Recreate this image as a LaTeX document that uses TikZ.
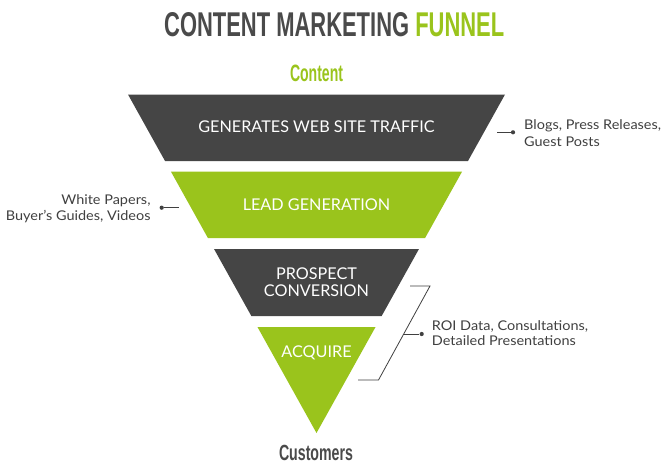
\documentclass[tikz,border=0pt]{standalone}
\usepackage{fontspec}
\setmainfont{Lato}
\newfontfamily\condfont{Liberation Sans}
\newfontfamily\sidefont{Lato}[FakeStretch=1.08]
\usepackage{graphicx}
\definecolor{fdark}{RGB}{69,69,69}
\definecolor{fgreen}{RGB}{154,196,28}
\definecolor{tgray}{RGB}{74,74,74}
\definecolor{sidegray}{RGB}{64,64,64}
\begin{document}
\begin{tikzpicture}[x=1pt,y=-1pt,
  seglabel/.style={text=white,font=\fontsize{16.2}{17.5}\selectfont,align=center,inner sep=0pt},
  sidelabel/.style={text=sidegray,inner sep=0pt},
  leader/.style={draw=sidegray,line width=0.8pt},
  dotmark/.style={circle,fill=sidegray,inner sep=0pt,minimum size=4.2pt}]
\useasboundingbox (0,0) rectangle (666,469);
\fill[white] (0,0) rectangle (666,469);
\def\cx{316.5}
\def\hw#1{(0.556869*(433-#1))}
% funnel segments
\fill[fdark] ({\cx-\hw{94.5}},94.5) -- ({\cx+\hw{94.5}},94.5) -- ({\cx+\hw{161}},161) -- ({\cx-\hw{161}},161) -- cycle;
\fill[fgreen] ({\cx-\hw{171.5}},171.5) -- ({\cx+\hw{171.5}},171.5) -- ({\cx+\hw{238}},238) -- ({\cx-\hw{238}},238) -- cycle;
\fill[fdark] ({\cx-\hw{249}},249) -- ({\cx+\hw{249}},249) -- ({\cx+\hw{316}},316) -- ({\cx-\hw{316}},316) -- cycle;
\fill[fgreen] ({\cx-\hw{327}},327) -- ({\cx+\hw{327}},327) -- (\cx,433) -- cycle;
% titles
\node[anchor=base west,inner sep=0pt] (title) at (164,36.7)
  {\resizebox{340pt}{24pt}{\condfont\bfseries\textcolor{tgray}{CONTENT MARKETING} \textcolor{fgreen}{FUNNEL}}};
\node[anchor=base,inner sep=0pt] (content) at (316.5,81.7)
  {\resizebox{53pt}{16.5pt}{\condfont\bfseries\textcolor{fgreen}{Content}}};
\node[anchor=base,inner sep=0pt] (customers) at (316,460.7)
  {\resizebox{74pt}{15.3pt}{\condfont\bfseries\textcolor{tgray}{Customers}}};
% segment labels
\node[seglabel] (s1) at (\cx,127) {GENERATES WEB SITE TRAFFIC};
\node[seglabel] (s2) at (\cx,205) {LEAD GENERATION};
\node[seglabel] (s3) at (\cx,282) {PROSPECT\\CONVERSION};
\node[seglabel] (s4) at (\cx,353) {ACQUIRE};
% side labels
\node[sidelabel,anchor=west,align=left,font=\sidefont\fontsize{13.4}{17.6}\selectfont] (blogs) at (524,133) {Blogs, Press Releases,\\Guest Posts};
\node[dotmark] (d1) at (513,132.3) {};
\coordinate (e1) at (497,132.3);
\draw[leader] (e1) -- (d1);
\node[sidelabel,anchor=east,align=right,font=\sidefont\fontsize{13.4}{16.5}\selectfont] (white) at (150.7,208.5) {White Papers,\\Buyer’s Guides, Videos};
\node[dotmark] (d2) at (161.7,207.7) {};
\coordinate (e2) at (178.5,207.7);
\draw[leader] (d2) -- (e2);
\node[sidelabel,anchor=west,align=left,font=\sidefont\fontsize{13.4}{15}\selectfont] (roi) at (431.7,333) {ROI Data, Consultations,\\Detailed Presentations};
\node[dotmark] (d3) at (421.7,334) {};
\coordinate (b1) at (410,286);
\coordinate (b2) at (430,286);
\coordinate (b3) at (378.5,380);
\coordinate (b4) at (358,380);
\coordinate (bm) at (403.7,334);
\draw[leader] (b1) -- (b2) -- (b3) -- (b4);
\draw[leader] (bm) -- (d3);
\end{tikzpicture}
\end{document}
